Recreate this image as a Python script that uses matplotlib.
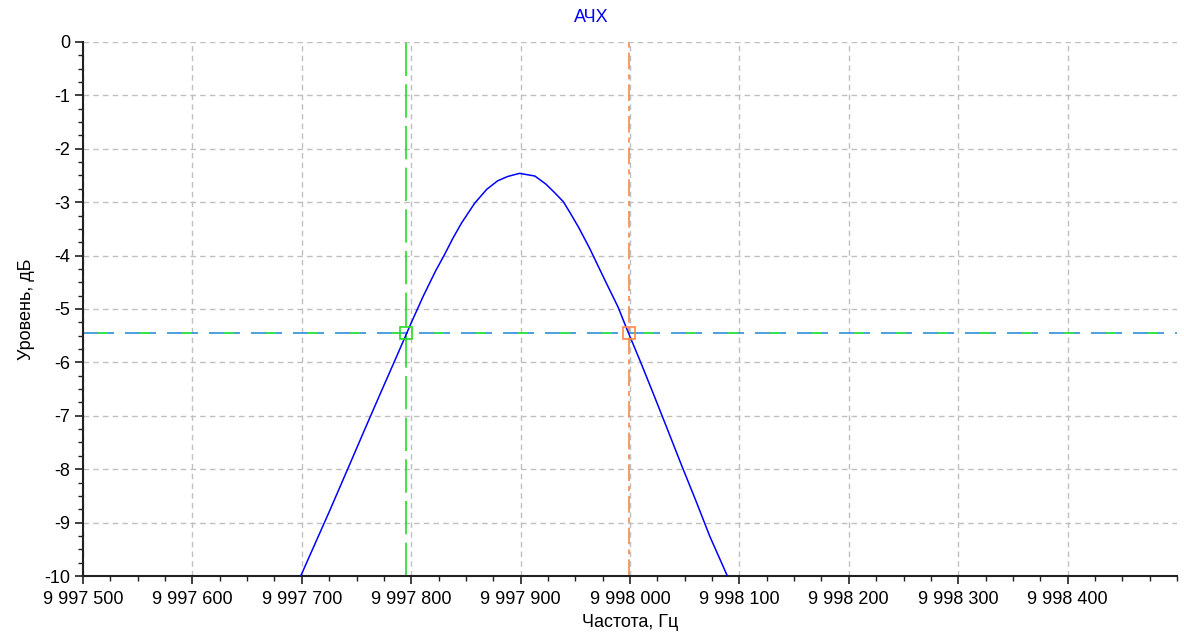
import matplotlib
matplotlib.use("Agg")
import matplotlib.pyplot as plt
from matplotlib.ticker import FuncFormatter, MultipleLocator

plt.rcParams['font.family'] = ['Liberation Sans', 'DejaVu Sans']
plt.rcParams['axes.unicode_minus'] = False

# АЧХ curve
freq = [9997699, 9997712, 9997725, 9997744, 9997757, 9997771, 9997786, 9997800,
        9997811, 9997822, 9997831, 9997838, 9997846, 9997858, 9997869, 9997879,
        9997888, 9997899, 9997913, 9997923, 9997931, 9997939, 9997945, 9997953,
        9997963, 9997978, 9997989, 9997998, 9998009, 9998021, 9998033, 9998047,
        9998060, 9998073, 9998089]
level = [-10.0, -9.40, -8.80, -7.90, -7.28, -6.62, -5.92, -5.26,
         -4.76, -4.30, -3.96, -3.68, -3.39, -3.02, -2.76, -2.60,
         -2.52, -2.46, -2.51, -2.66, -2.82, -2.99, -3.19, -3.47,
         -3.86, -4.50, -4.96, -5.42, -5.96, -6.57, -7.19, -7.92,
         -8.58, -9.26, -10.0]

# markers (band edges at -3 dB)
marker_left = 9997795
marker_right = 9997999
level_3db = -5.45

xticks = [9997500, 9997600, 9997700, 9997800, 9997900,
          9998000, 9998100, 9998200, 9998300, 9998400]
yticks = [0, -1, -2, -3, -4, -5, -6, -7, -8, -9, -10]

fig = plt.figure(figsize=(11.84, 6.35), dpi=100)
ax = fig.add_axes([0.0701, 0.0929, 0.9240, 0.8410])

ax.set_xlim(9997500, 9998500)
ax.set_ylim(-10, 0)

ax.grid(True, which='major', color='#c0c0c0', linestyle=(0, (4, 3)), linewidth=1.0)
ax.set_axisbelow(True)

# horizontal -3 dB line: blue dashes with green pieces
ax.axhline(level_3db, color='#2d8fd5', linewidth=1.2, linestyle=(0, (18.6, 6.6)))
ax.axhline(level_3db, color='#33ee33', linewidth=1.2, linestyle=(16.2, (6, 19.2)))

# vertical markers
ax.axvline(marker_left, color='#22dd22', linewidth=1.2, dashes=(20, 5))
ax.axvline(marker_right, color='#ff8844', linewidth=1.2, dashes=(10, 3, 3, 3))

ax.plot(freq, level, color='#0000ff', linewidth=1.1, zorder=5)

ax.plot([marker_left], [level_3db], marker='s', markersize=8.5, markerfacecolor='none',
        markeredgecolor='#22dd22', markeredgewidth=1.2, zorder=6)
ax.plot([marker_right], [level_3db], marker='s', markersize=8.5, markerfacecolor='none',
        markeredgecolor='#ff8844', markeredgewidth=1.2, zorder=6)

ax.set_xticks(xticks)
ax.set_yticks(yticks)
ax.xaxis.set_minor_locator(MultipleLocator(25))
ax.yaxis.set_minor_locator(MultipleLocator(0.25))
ax.xaxis.set_major_formatter(FuncFormatter(lambda v, p: f"{int(round(v)):,}".replace(",", " ")))
ax.yaxis.set_major_formatter(FuncFormatter(lambda v, p: f"{int(round(v))}"))

for s in ['top', 'right']:
    ax.spines[s].set_visible(False)
for s in ['left', 'bottom']:
    ax.spines[s].set_linewidth(1.5)
    ax.spines[s].set_color('#202020')

ax.tick_params(which='major', length=6, width=1.2, labelsize=13, color='#202020', pad=3)
ax.tick_params(axis='x', which='major', pad=5)
ax.tick_params(which='minor', length=3.5, width=1.0, color='#202020')

ax.set_xlabel('Частота, Гц', fontsize=13, labelpad=4)
ax.set_ylabel('Уровень, дБ', fontsize=13, labelpad=7)
fig.text(0.4995, 0.972, 'АЧХ', color='#0000ff', fontsize=13, ha='center', va='center')

fig.savefig('out.png', dpi=100)
